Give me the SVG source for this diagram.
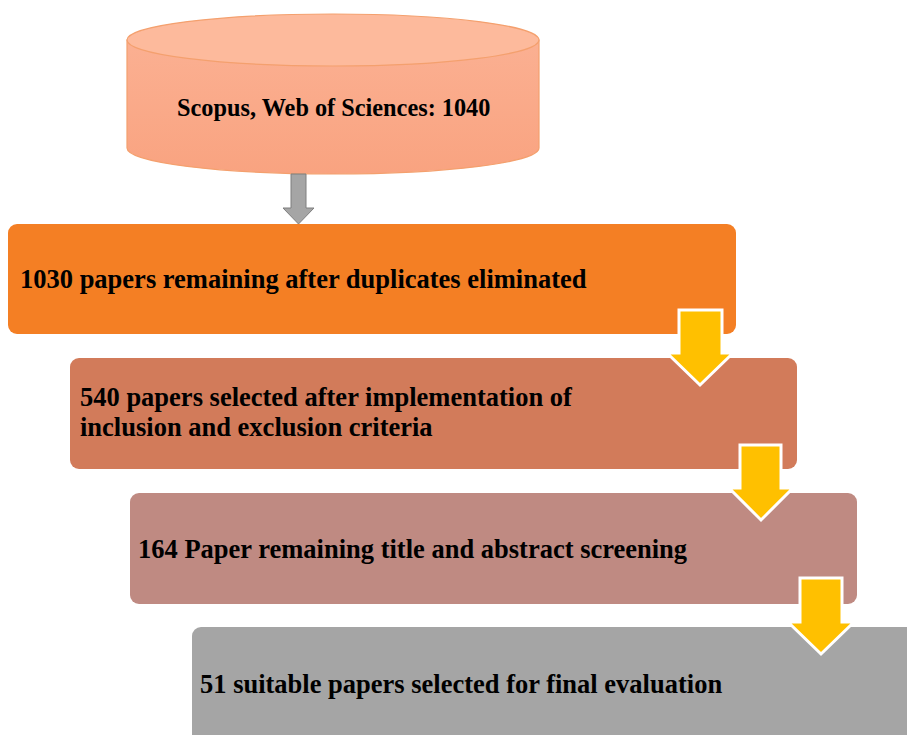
<svg xmlns="http://www.w3.org/2000/svg" width="907" height="735" viewBox="0 0 907 735">
<defs>
<linearGradient id="cylSide" x1="0" y1="0" x2="0" y2="1">
<stop offset="0" stop-color="#FBB092"/>
<stop offset="1" stop-color="#F9A380"/>
</linearGradient>
</defs>
<style>
.t{font-family:"Liberation Serif","Times New Roman",serif;font-weight:bold;font-size:26.5px;fill:#000}
.tc{font-family:"Liberation Serif","Times New Roman",serif;font-weight:bold;font-size:24.3px;fill:#000}
.ya{fill:#FFC000;stroke:#FFFFFF;stroke-width:3;stroke-linejoin:miter}
</style>
<rect width="907" height="735" fill="#FFFFFF"/>
<g id="node-db">
<path d="M127,40 L127,148 A206,26 0 0 0 539,148 L539,40 Z" fill="url(#cylSide)" stroke="#F4A06E" stroke-width="1.2"/>
<ellipse cx="333" cy="40" rx="206" ry="26" fill="#FDBA9C" stroke="#F4A06E" stroke-width="1.2"/>
<text class="tc" x="177" y="116">Scopus, Web of Sciences: 1040</text>
</g>
<g id="node-1">
<rect x="8" y="224" width="728" height="110" rx="9" fill="#F47F24"/>
<text class="t" x="20" y="288">1030 papers remaining after duplicates eliminated</text>
</g>
<g id="node-2">
<rect x="70" y="358" width="727" height="111" rx="9" fill="#D27B5A"/>
<text class="t" x="80" y="406">540 papers selected after implementation of</text>
<text class="t" x="80" y="436">inclusion and exclusion criteria</text>
</g>
<g id="node-3">
<rect x="130" y="493" width="727" height="111" rx="9" fill="#BF8A82"/>
<text class="t" x="138" y="558">164 Paper remaining title and abstract screening</text>
</g>
<g id="node-4">
<rect x="192" y="627" width="730" height="120" rx="9" fill="#A5A5A5"/>
<text class="t" x="200" y="693">51 suitable papers selected for final evaluation</text>
</g>
<g id="connectors">
<path d="M291,174 L306,174 L306,208 L314,208 L298.5,224 L283,208 L291,208 Z" fill="#A5A5A5" stroke="#7F7F7F" stroke-width="1"/>
<path class="ya" d="M679,310 L722,310 L722,353 L733,353 L700,385 L667,353 L679,353 Z"/>
<path class="ya" d="M740,445 L781,445 L781,488 L793,488 L761,520 L729,488 L740,488 Z"/>
<path class="ya" d="M800,578 L842,578 L842,622 L854,622 L821,654 L788,622 L800,622 Z"/>
</g>
</svg>
